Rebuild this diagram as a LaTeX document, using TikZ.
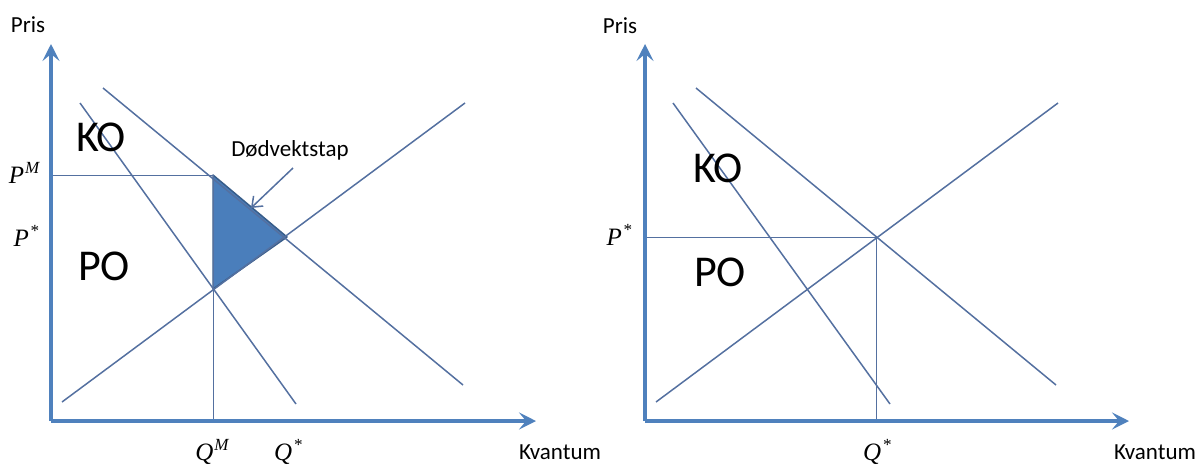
\documentclass[tikz,border=0pt]{standalone}
\usepackage{fontspec}
\setmainfont{Carlito}
\newfontfamily\mathlike{Liberation Serif}
\usetikzlibrary{arrows.meta}
\definecolor{lineblue}{RGB}{84,112,160}
\definecolor{axisblue}{RGB}{79,129,189}
\definecolor{fillblue}{RGB}{74,126,187}
\definecolor{edgeblue}{RGB}{56,93,138}
\newcommand{\mvar}[2]{{\mathlike\itshape #1\kern1pt\raisebox{0.40em}{\fontsize{17}{19}\selectfont #2}}}
\tikzset{
  curve/.style={draw=lineblue, line width=1.5pt},
  guide/.style={draw=lineblue, line width=1pt},
  axis/.style={draw=axisblue, line width=3.5pt, -{Stealth[length=17pt,width=17pt,inset=7pt]}},
  lbl/.style={font=\fontsize{23}{27}\selectfont, inner sep=0pt},
  big/.style={font=\fontsize{44}{50}\selectfont, inner sep=0pt},
  mlbl/.style={font=\fontsize{25}{29}\selectfont, inner sep=0pt},
}
\begin{document}
\begin{tikzpicture}[x=1pt,y=-1pt]
\useasboundingbox (0,0) rectangle (1197,464);
% ---------- Left graph ----------
\coordinate (Lo) at (51,421);
\coordinate (Ly) at (51,44);
\coordinate (Lx) at (536,421);
\coordinate (LmrA) at (80,103);
\coordinate (LmrB) at (296,404);
\coordinate (LdA) at (103,88);
\coordinate (LdB) at (463,385);
\coordinate (LsA) at (62,402);
\coordinate (LsB) at (465,103);
\coordinate (LPM) at (51,175);
\coordinate (LM) at (213,175);
\coordinate (LE) at (287,237);
\coordinate (LQ) at (213,289);
\coordinate (LQb) at (213,421);
\coordinate (LarA) at (293,168);
\coordinate (LarB) at (251,208);

\filldraw[fill=fillblue, draw=edgeblue, line width=1.5pt, line join=round] (LM) -- (LE) -- (LQ) -- cycle;
\draw[curve] (LmrA) -- (LmrB);
\draw[curve] (LdA) -- (LdB);
\draw[curve] (LsA) -- (LsB);
\draw[guide] (LPM) -- (LM) -- (LQb);
\draw[lineblue, line width=1.5pt, -{Straight Barb[length=9pt,width=14pt]}] (LarA) -- (LarB);
\draw[axis] (Lo) -- (Ly);
\draw[axis] (Lo) -- (Lx);

\node[lbl] (Lpris) at (28,25) {Pris};
\node[lbl] (Lkv) at (560,452) {Kvantum};
\node[lbl] (Ldv) at (290,150) {Dødvektstap};
\node[big] (LKO) at (101,137) {KO};
\node[big] (LPO) at (104,266) {PO};
\node[mlbl] (LPMl) at (24,173) {\mvar{P}{M}};
\node[mlbl] (LPSl) at (26,236) {\mvar{P}{*}};
\node[mlbl] (LQMl) at (212,452) {\mvar{Q}{M}};
\node[mlbl] (LQSl) at (288,452) {\mvar{Q}{*}};

% ---------- Right graph ----------
\coordinate (Ro) at (645,421);
\coordinate (Ry) at (645,44);
\coordinate (Rx) at (1129,421);
\coordinate (RmrA) at (673,103);
\coordinate (RmrB) at (890,404);
\coordinate (RdA) at (696,88);
\coordinate (RdB) at (1056,385);
\coordinate (RsA) at (656,402);
\coordinate (RsB) at (1058,103);
\coordinate (RPS) at (645,237);
\coordinate (RE) at (876,237);
\coordinate (RQb) at (876,421);

\draw[curve] (RmrA) -- (RmrB);
\draw[curve] (RdA) -- (RdB);
\draw[curve] (RsA) -- (RsB);
\draw[guide] (RPS) -- (RE) -- (RQb);
\draw[axis] (Ro) -- (Ry);
\draw[axis] (Ro) -- (Rx);

\node[lbl] (Rpris) at (620,26) {Pris};
\node[lbl] (Rkv) at (1155,452) {Kvantum};
\node[big] (RKO) at (718,168) {KO};
\node[big] (RPO) at (720,272) {PO};
\node[mlbl] (RPSl) at (619,235) {\mvar{P}{*}};
\node[mlbl] (RQSl) at (877,452) {\mvar{Q}{*}};
\end{tikzpicture}
\end{document}
